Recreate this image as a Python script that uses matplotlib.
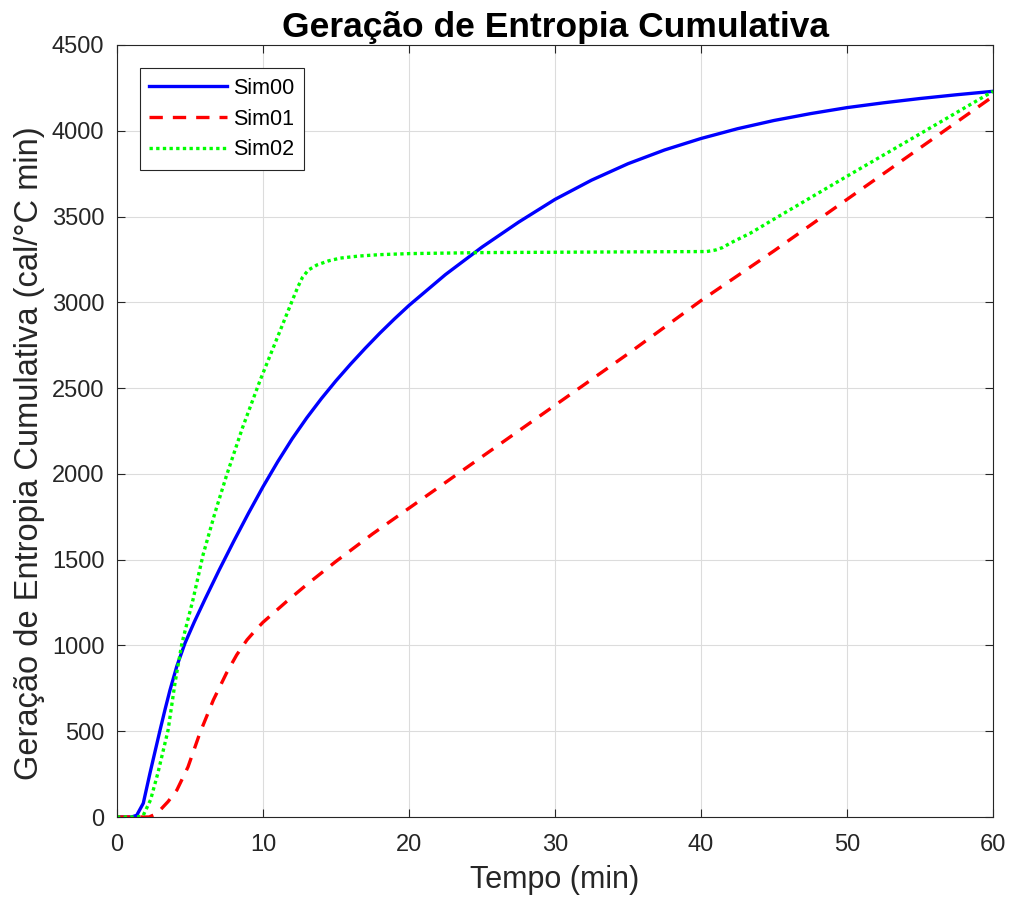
import matplotlib
matplotlib.use("Agg")
import matplotlib.pyplot as plt

plt.rcParams['font.family'] = ['Liberation Sans', 'DejaVu Sans']

t00 = [0, 1.0, 1.35, 1.8, 2.26, 2.6, 2.95, 3.3, 3.63, 4.1, 4.66, 5.3, 6.03, 7, 8, 9, 10, 11, 12, 13, 14, 15, 16, 17, 18, 19, 20, 22.5, 25, 27.5, 30, 32.5, 35, 37.5, 40, 42.5, 45, 47.5, 50, 52.5, 55, 57.5, 60]
v00 = [0, 0, 10, 80, 256, 380, 507, 630, 740, 880, 1014, 1138, 1270, 1440, 1608, 1770, 1925, 2070, 2205, 2327, 2439, 2543, 2640, 2732, 2820, 2903, 2982, 3162, 3322, 3467, 3600, 3712, 3808, 3888, 3955, 4012, 4060, 4100, 4135, 4163, 4188, 4210, 4230]

t01 = [0, 2.2, 2.6, 2.95, 3.5, 4.1, 4.86, 5.68, 6.6, 7.5, 8.2, 8.9, 9.5, 10, 10.8, 11.6, 13, 15, 17.5, 20, 25, 30, 35, 40, 45, 50, 55, 60]
v01 = [0, 0, 15, 40, 90, 157, 291, 490, 682, 839, 945, 1032, 1090, 1135, 1195, 1255, 1355, 1490, 1650, 1800, 2100, 2400, 2700, 3010, 3300, 3600, 3900, 4200]

t02 = [0, 1.4, 1.8, 2.3, 2.8, 3.5, 3.97, 4.45, 5.2, 5.9, 6.7, 7.5, 8.6, 9.8, 10.96, 12.05, 12.4, 12.7, 13.1, 13.7, 14.5, 15.3, 16.6, 18, 20, 25, 30, 35, 40.4, 41, 41.5, 42, 43.4, 44.9, 46.8, 50, 55, 60]
v02 = [0, 0, 10, 100, 256, 507, 780, 1014, 1265, 1530, 1770, 1990, 2270, 2545, 2790, 3020, 3092, 3145, 3188, 3218, 3242, 3258, 3270, 3278, 3284, 3290, 3292, 3294, 3296, 3305, 3320, 3345, 3404, 3480, 3575, 3735, 3982, 4230]

fig = plt.figure(figsize=(10.14, 9.01), dpi=100)
ax = fig.add_axes([117/1014, 1-817/901, (993-117)/1014, (817-45)/901])

ax.plot(t00, v00, color='#0000ff', lw=2.4, ls='-', label='Sim00')
ax.plot(t01, v01, color='#ff0000', lw=2.4, ls=(0, (4, 3)), label='Sim01')
ax.plot(t02, v02, color='#00ff00', lw=2.4, ls=(0, (1, 1)), label='Sim02')

ax.set_xlim(0, 60)
ax.set_ylim(0, 4500)
ax.set_xticks([0, 10, 20, 30, 40, 50, 60])
ax.set_yticks(range(0, 4501, 500))
ax.grid(True, color='#dcdcdc', lw=0.8)
ax.set_axisbelow(True)
ax.tick_params(direction='in', length=6, labelsize=17, colors='#262626', top=True, right=True, labeltop=False, labelright=False)
ax.tick_params(axis='x', pad=12.5)
ax.tick_params(axis='y', pad=9)
for s in ax.spines.values():
    s.set_color('#262626')
    s.set_linewidth(0.8)

ax.set_xlabel('Tempo (min)', fontsize=22, color='#262626', labelpad=6)
ax.set_ylabel('Geração de Entropia Cumulativa (cal/°C min)', fontsize=23.5, color='#262626')
ax.yaxis.set_label_coords(-0.082, 0.4715)
ax.set_title('Geração de Entropia Cumulativa', fontsize=25.5, fontweight='bold', pad=6)

leg = ax.legend(loc='upper left', bbox_to_anchor=(0.026, 0.97), fontsize=15.5, fancybox=False,
                edgecolor='#262626', framealpha=1, handlelength=3.6, handletextpad=0.3,
                borderpad=0.45, labelspacing=0.45, borderaxespad=0)
leg.get_frame().set_linewidth(0.8)

fig.savefig('out.png', dpi=100)
